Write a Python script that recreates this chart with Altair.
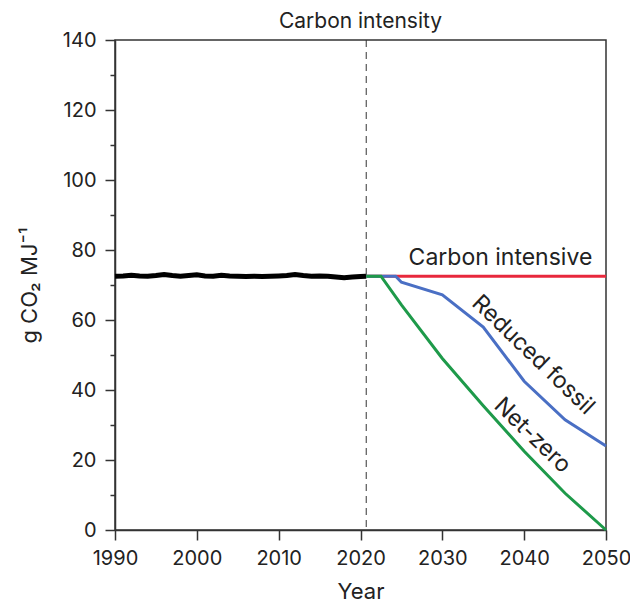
import altair as alt
import pandas as pd

# ---- data ----
hist_years = [1990, 1991, 1992, 1993, 1994, 1995, 1996, 1997, 1998, 1999,
              2000, 2001, 2002, 2003, 2004, 2005, 2006, 2007, 2008, 2009,
              2010, 2011, 2012, 2013, 2014, 2015, 2016, 2017, 2018, 2019,
              2020, 2020.7]
hist_values = [72.5, 72.6, 72.8, 72.6, 72.5, 72.7, 73.0, 72.7, 72.5, 72.7,
               72.9, 72.6, 72.5, 72.8, 72.6, 72.5, 72.4, 72.5, 72.4, 72.5,
               72.6, 72.7, 73.0, 72.7, 72.5, 72.6, 72.5, 72.3, 72.1, 72.3,
               72.4, 72.5]

intensive_years = [2020.7, 2050]
intensive_values = [72.5, 72.5]

reduced_years = [2020.7, 2024.3, 2025, 2030, 2035, 2040, 2045, 2050]
reduced_values = [72.5, 72.5, 70.8, 67.2, 58.0, 42.5, 31.5, 24.0]

netzero_years = [2020.7, 2022.5, 2025, 2030, 2035, 2040, 2045, 2050]
netzero_values = [72.5, 72.5, 64.3, 49.0, 35.5, 22.5, 10.5, 0.0]

divider_year = [2020.7]

label_texts = ["Carbon intensive", "Reduced fossil", "Net-zero"]
label_years = [2037.1, 2041.1, 2041.0]
label_values = [77.6, 50.0, 27.0]
label_angles = [0, 44, 44]

x_ticks = [1990, 2000, 2010, 2020, 2030, 2040, 2050]
y_ticks = [0, 20, 40, 60, 80, 100, 120, 140]
y_minor = [10, 30, 50, 70, 90, 110, 130]

FONT = "Inter"
W, H = 491, 490

xscale = alt.Scale(domain=[1990, 2050], nice=False, zero=False)
yscale = alt.Scale(domain=[0, 140], nice=False)

hist = pd.DataFrame({"year": hist_years, "value": hist_values})
inten = pd.DataFrame({"year": intensive_years, "value": intensive_values})
red = pd.DataFrame({"year": reduced_years, "value": reduced_values})
nz = pd.DataFrame({"year": netzero_years, "value": netzero_values})
div = pd.DataFrame({"year": divider_year})

base_x = alt.X("year:Q", scale=xscale,
               axis=alt.Axis(values=x_ticks, format="d", title="Year",
                             tickSize=10, labelPadding=8, titlePadding=13,
                             grid=False, domainColor="#333", tickColor="#333",
                             domainWidth=1.5, tickWidth=1.5,
                             labelFontSize=20, titleFontSize=22,
                             labelColor="#222", titleColor="#222",
                             labelFlush=False,
                             titleFontWeight="normal", labelFont=FONT, titleFont=FONT))
base_y = alt.Y("value:Q", scale=yscale,
               axis=alt.Axis(values=y_ticks, title="g CO\u2082 MJ\u207b\u00b9",
                             orient="left",
                             tickSize=10, labelPadding=9, titlePadding=21,
                             grid=False, domainColor="#333", tickColor="#333",
                             domainWidth=1.5, tickWidth=1.5,
                             labelFontSize=20, titleFontSize=22,
                             labelColor="#222", titleColor="#222",
                             labelFlush=False,
                             titleFontWeight="normal", labelFont=FONT, titleFont=FONT))

hist_line = alt.Chart(hist).mark_line(color="#000000", strokeWidth=5).encode(
    x=base_x, y=base_y)

nx = alt.X("year:Q", scale=xscale, axis=None)
ny = alt.Y("value:Q", scale=yscale, axis=None)

inten_line = alt.Chart(inten).mark_line(color="#e8283c", strokeWidth=3).encode(x=nx, y=ny)
red_line = alt.Chart(red).mark_line(color="#4a6fc4", strokeWidth=3).encode(x=nx, y=ny)
nz_line = alt.Chart(nz).mark_line(color="#1e9a4a", strokeWidth=3).encode(x=nx, y=ny)

div_rule = alt.Chart(div).mark_rule(color="#333", strokeWidth=1, strokeDash=[7, 5]).encode(x=nx)

labels = pd.DataFrame({"text": label_texts, "year": label_years,
                       "value": label_values, "angle": label_angles})
text_layers = []
for i in range(len(label_texts)):
    text_layers.append(
        alt.Chart(labels.iloc[[i]]).mark_text(
            font=FONT, fontSize=23, color="#222", angle=label_angles[i],
            align="center", baseline="middle").encode(
            x=nx, y=ny, text="text:N"))

minor = alt.Chart(red).mark_line(opacity=0).encode(
    x=nx,
    y=alt.Y("value:Q", scale=yscale,
            axis=alt.Axis(orient="left", values=y_minor, labels=False, title=None,
                          tickSize=5, domain=False, grid=False, tickColor="#333",
                          tickWidth=1.5)))

chart = alt.layer(
    hist_line, div_rule, inten_line, red_line, nz_line, *text_layers, minor
).resolve_axis(y="independent", x="independent").properties(
    width=W, height=H,
    title=alt.TitleParams("Carbon intensity", fontSize=21, font=FONT,
                          fontWeight="normal", color="#222", offset=-2,
                          frame="group"),
    autosize=alt.AutoSizeParams(type="none"),
    padding={"left": 107, "top": 32, "right": 24, "bottom": 72},
).configure_view(stroke="#333", strokeWidth=1.5)

chart.save("out.html", embed_options={"renderer": "svg", "actions": False})
